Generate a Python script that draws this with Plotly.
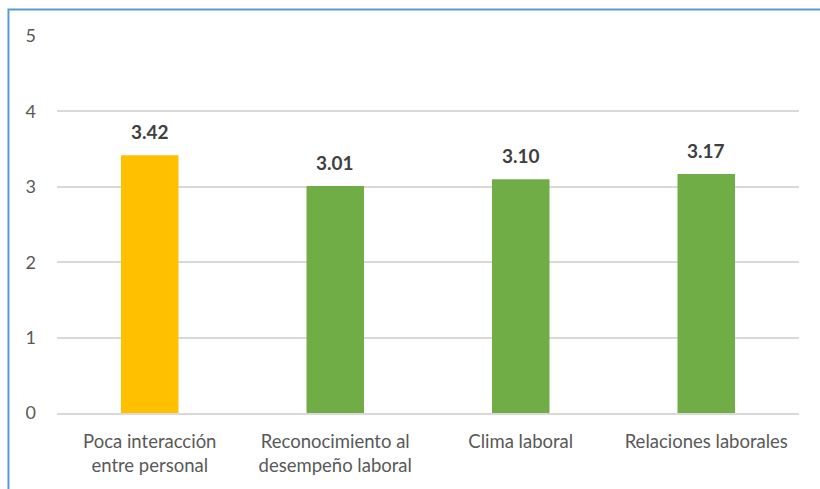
import plotly.graph_objects as go

# Promedio por dimensión
categorias = [
    "Poca interacción<br>entre personal",
    "Reconocimiento al<br>desempeño laboral",
    "Clima laboral",
    "Relaciones laborales",
]
valores = [3.42, 3.01, 3.10, 3.17]
colores = ["#FFC000", "#70AD47", "#70AD47", "#70AD47"]
ticks_y = [0, 1, 2, 3, 4, 5]

FONT = "Lato, 'Open Sans', sans-serif"

fig = go.Figure(
    go.Bar(
        x=categorias,
        y=valores,
        marker=dict(color=colores, line=dict(width=0)),
        hoverinfo="x+y",
    )
)

# Etiquetas de valor sobre cada barra
for c, v in zip(categorias, valores):
    fig.add_annotation(
        x=c, y=v, text=f"<b>{v:.2f}</b>", showarrow=False,
        yanchor="bottom", yshift=10,
        font=dict(family=FONT, size=19, color="#404040"),
    )

# Marco exterior azul
fig.add_shape(
    type="rect", xref="paper", yref="paper",
    x0=-0.0654, x1=1.05, y0=-0.22, y1=1.0703,
    line=dict(color="#5B9BD5", width=2), fillcolor="rgba(0,0,0,0)",
)

fig.update_layout(
    width=820, height=489,
    margin=dict(l=57, r=21, t=36, b=76),
    paper_bgcolor="white", plot_bgcolor="white",
    bargap=0.69,
    showlegend=False,
    font=dict(family=FONT, color="#595959"),
)
fig.update_xaxes(
    showgrid=False, showline=True, linecolor="#D9D9D9", linewidth=2,
    ticks="", tickfont=dict(size=18.5, color="#595959"),
    ticklabelstandoff=11,
)
fig.update_yaxes(
    range=[0, 5], tickvals=ticks_y, showgrid=True, gridcolor="#D9D9D9",
    gridwidth=2, zeroline=False, showline=False, ticks="",
    tickfont=dict(size=18, color="#595959"), ticklabelstandoff=20,
)

fig.write_html("out.html")
